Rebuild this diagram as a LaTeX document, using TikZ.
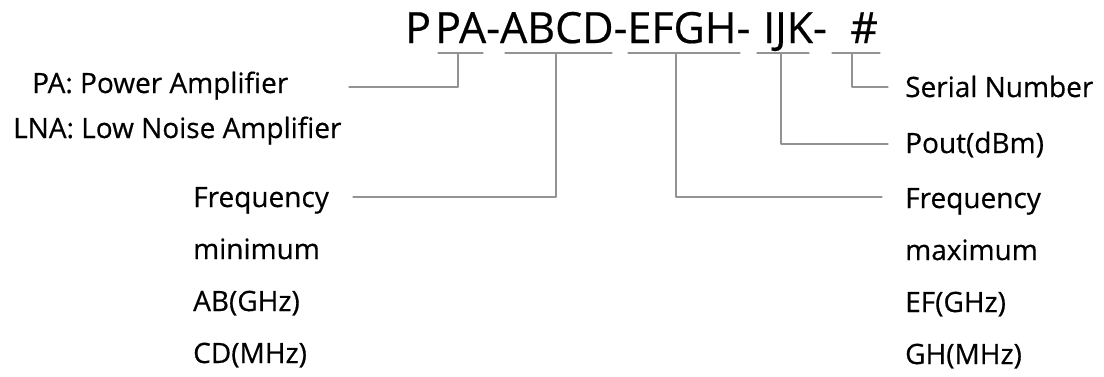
\documentclass[tikz,border=0pt]{standalone}
\usepackage{fontspec}
\setmainfont{Open Sans}[FakeBold=0.5]
\begin{document}
\begin{tikzpicture}[x=1pt, y=-1pt, line join=round, line cap=round,
    lbl/.style={anchor=base west, inner sep=0pt, font=\fontsize{28}{30}\selectfont},
    code/.style={anchor=base west, inner sep=0pt, font=\fontsize{43}{45}\selectfont},
    conn/.style={draw=gray!85, line width=1.1pt}]
    \useasboundingbox (0,0) rectangle (1104,376);
    % part number
    \node[code] (codeP) at (405,43) {P};
    \node[code] (codeMain) at (435,43) {PA-ABCD-EFGH-};
    \node[code] (codeIJK) at (763,43) {IJK-};
    \node[code] (codeHash) at (850,43) {\#};
    \foreach \a/\b in {438/483,505/612,628/740,757/809,832/880}\draw[conn] (\a,53)--(\b,53);
    \coordinate (tPA) at (458,53);\coordinate (tAB) at (556,53);\coordinate (tEF) at (676,53);
    \coordinate (tIJK) at (781,53);\coordinate (tNo) at (852,53);
    % left labels
    \node[lbl] (pa) at (32,93) {PA: Power Amplifier};
    \node[lbl] (lna) at (13,138) {LNA: Low Noise Amplifier};
    \node[lbl] (fmin) at (193,207) {Frequency};
    \node[lbl] (fmin2) at (193,259) {minimum};
    \node[lbl] (fmin3) at (193,311) {AB(GHz)};
    \node[lbl] (fmin4) at (193,363) {CD(MHz)};
    % right labels
    \node[lbl] (serial) at (905,97) {Serial Number};
    \node[lbl] (pout) at (905,153) {Pout(dBm)};
    \node[lbl] (fmax) at (905,208) {Frequency};
    \node[lbl] (fmax2) at (905,260) {maximum};
    \node[lbl] (fmax3) at (905,312) {EF(GHz)};
    \node[lbl] (fmax4) at (905,364) {GH(MHz)};
    % connectors
    \coordinate (ePA) at (349,87);\coordinate (eAB) at (353,197);\coordinate (eEF) at (882,197);
    \coordinate (eIJK) at (888,144);\coordinate (eNo) at (888,87);
    \draw[conn] (tPA) |- (ePA);
    \draw[conn] (tAB) |- (eAB);
    \draw[conn] (tEF) |- (eEF);
    \draw[conn] (tIJK) |- (eIJK);
    \draw[conn] (tNo) |- (eNo);
\end{tikzpicture}
\end{document}
